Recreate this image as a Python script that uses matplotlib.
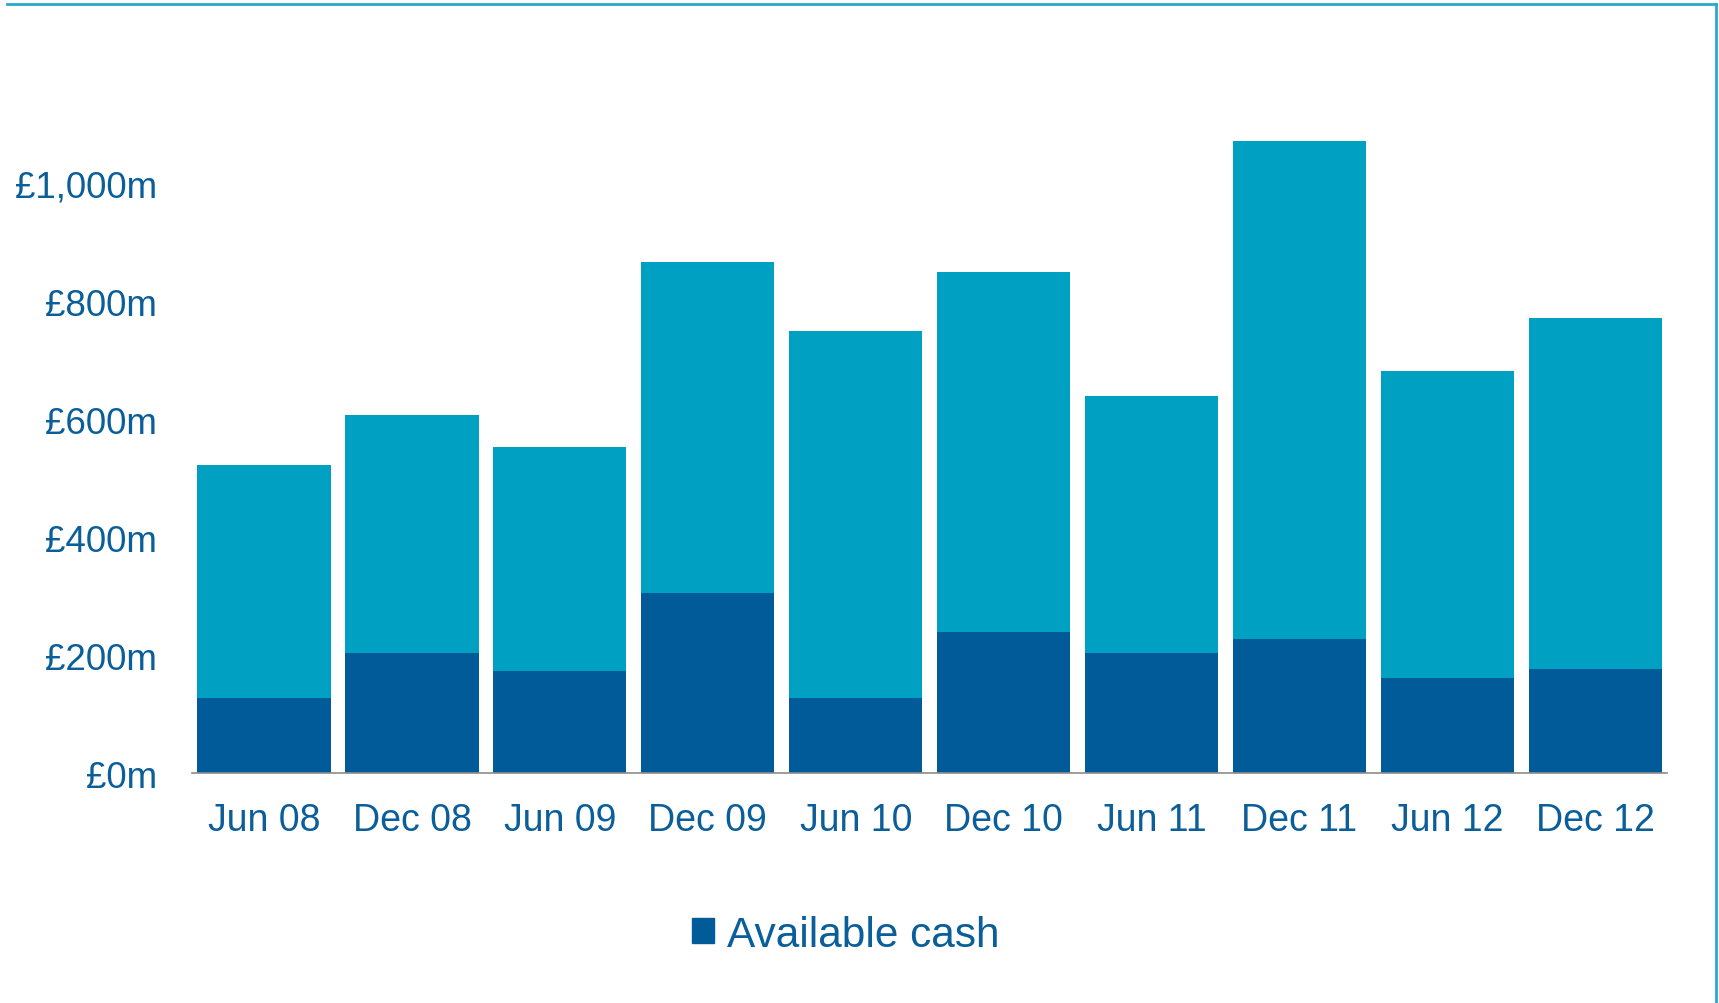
import matplotlib.pyplot as plt
import numpy as np
from matplotlib.patches import Patch
from matplotlib.lines import Line2D

# values, in £m
periods = ["Jun 08", "Dec 08", "Jun 09", "Dec 09", "Jun 10",
           "Dec 10", "Jun 11", "Dec 11", "Jun 12", "Dec 12"]
available_cash = [128, 203, 173, 305, 127, 240, 203, 227, 162, 177]
other_liquidity = [395, 404, 380, 561, 623, 609, 436, 844, 520, 594]
y_ticks = [0, 200, 400, 600, 800, 1000]

dark = "#005b98"
light = "#00a0c2"
text_col = "#0a5e9a"
border = "#27a9cb"

plt.rcParams['font.family'] = ['Liberation Sans', 'DejaVu Sans']

fig = plt.figure(figsize=(17.19, 10.04), dpi=100)
ax = fig.add_axes([0.1117, 0.229, 0.8583, 0.705])

x = np.arange(len(periods))
ax.bar(x, available_cash, width=0.9, color=dark)
ax.bar(x, other_liquidity, width=0.9, bottom=available_cash, color=light)

ax.set_xlim(-0.487, len(periods) - 0.513)
ax.set_ylim(0, 1200)
ax.set_xticks(x)
ax.set_xticklabels(periods)
ax.set_yticks(y_ticks)
ax.set_yticklabels(["£{:,}m".format(v) for v in y_ticks])
ax.tick_params(axis='both', length=0, labelsize=26.5, labelcolor=text_col)
ax.tick_params(axis='x', labelsize=27, pad=21)
ax.tick_params(axis='y', pad=25)

for s in ['top', 'right', 'left']:
    ax.spines[s].set_visible(False)
ax.spines['bottom'].set_color('#8c8c8c')
ax.spines['bottom'].set_linewidth(1.2)

fig.legend(handles=[Patch(color=dark, label="Available cash")],
           loc='center', bbox_to_anchor=(0.492, 0.068), frameon=False,
           fontsize=30.5, labelcolor=text_col, handlelength=0.52,
           handleheight=0.52, handletextpad=0.3)

# frame lines around the figure (top and right only)
fig.add_artist(Line2D([7 / 1719, 1716 / 1719], [1 - 5 / 1004, 1 - 5 / 1004],
                      transform=fig.transFigure, color=border, lw=2))
fig.add_artist(Line2D([1716 / 1719, 1716 / 1719], [0, 1 - 5 / 1004],
                      transform=fig.transFigure, color=border, lw=2))

fig.savefig('out.png', dpi=100)
